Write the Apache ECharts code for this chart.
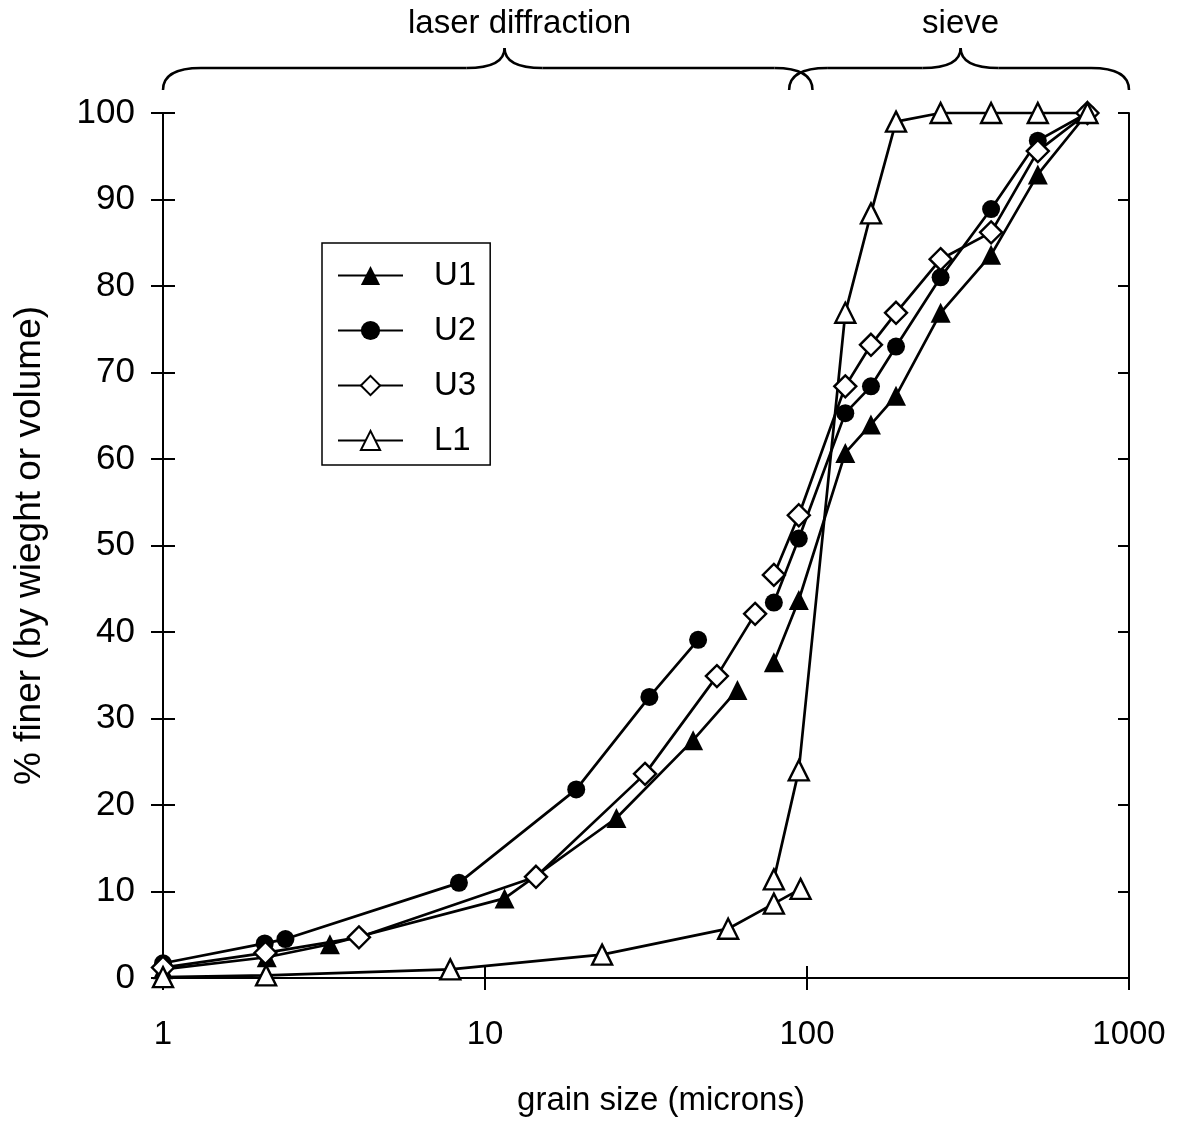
<!DOCTYPE html>
<html>
<head>
<meta charset="utf-8">
<script src="https://cdn.jsdelivr.net/npm/echarts@6/dist/echarts.min.js"></script>
<style>
  html, body { margin: 0; padding: 0; background: #fff; }
  #chart { width: 1179px; height: 1130px; }
</style>
</head>
<body>
<div id="chart"></div>
<script>
// grain size (microns) and % finer, laser diffraction part
const u1LaserSize = [1, 2.1, 3.3, 11.5, 25.6, 44.3, 60.8]
const u1LaserPct = [1.0, 2.4, 3.9, 9.2, 18.5, 27.5, 33.3]
const u2LaserSize = [1, 2.07, 2.4, 8.3, 19.2, 32.4, 45.9]
const u2LaserPct = [1.7, 4.0, 4.5, 11.0, 21.8, 32.5, 39.1]
const u3LaserSize = [1, 2.08, 4.06, 14.4, 31.4, 52.5, 69]
const u3LaserPct = [1.2, 2.9, 4.7, 11.7, 23.6, 34.9, 42.1]
const l1LaserSize = [1, 2.09, 7.8, 23.1, 56.9, 78.9, 95.5]
const l1LaserPct = [0.1, 0.3, 1.0, 2.7, 5.7, 8.6, 10.3]

// sieve part, same sieve sizes for every sample
const sieveSize = [78.9, 94.3, 131.5, 158, 189, 260, 373, 521, 743]
const u1SievePct = [36.5, 43.7, 60.7, 64.0, 67.3, 76.9, 83.6, 92.9, 100]
const u2SievePct = [43.4, 50.8, 65.3, 68.4, 73.0, 81.0, 88.9, 96.8, 100]
const u3SievePct = [46.6, 53.5, 68.4, 73.2, 76.9, 83.1, 86.2, 95.6, 100]
const l1SievePct = [11.4, 24.0, 76.9, 88.4, 99.0, 100, 100, 100, 100]

const xTicks = [1, 10, 100, 1000]
// brace ranges over the top: [start, tip, end] in microns
const laserBrace = [1, 11.5, 104]
const sieveBrace = [88, 300, 1000]

const FONT = '"Liberation Sans", Arial, sans-serif'
const black = '#000'

const pairs = (xs, ys) => xs.map((x, i) => [x, ys[i]])

const chart = echarts.init(document.getElementById('chart'))

function makeSeries(name, data, symbol, size, fill) {
  return {
    name,
    type: 'line',
    data,
    symbol,
    symbolSize: size,
    showAllSymbol: true,
    clip: false,
    xAxisIndex: 0,
    yAxisIndex: 0,
    lineStyle: { color: black, width: 2.7 },
    itemStyle: {
      color: fill,
      borderColor: black,
      borderWidth: fill === black ? 0 : 2.4,
      opacity: 1
    },
    emphasis: { disabled: true }
  }
}

const series = [
  makeSeries('U1', pairs(u1LaserSize, u1LaserPct), 'triangle', 20, black),
  makeSeries('U1', pairs(sieveSize, u1SievePct), 'triangle', 20, black),
  makeSeries('U2', pairs(u2LaserSize, u2LaserPct), 'circle', 18, black),
  makeSeries('U2', pairs(sieveSize, u2SievePct), 'circle', 18, black),
  makeSeries('U3', pairs(u3LaserSize, u3LaserPct), 'diamond', 22, '#fff'),
  makeSeries('U3', pairs(sieveSize, u3SievePct), 'diamond', 22, '#fff'),
  makeSeries('L1', pairs(l1LaserSize, l1LaserPct), 'triangle', 20, '#fff'),
  makeSeries('L1', pairs(sieveSize, l1SievePct), 'triangle', 20, '#fff')
]

const tickStyle = { color: black, width: 2 }
const logAxis = {
  type: 'log',
  logBase: 10,
  min: 1,
  max: 1000,
  splitLine: { show: false },
  minorTick: { show: false }
}

const option = {
  animation: false,
  backgroundColor: '#fff',
  grid: { left: 163, right: 50, top: 113, bottom: 152 },
  legend: {
    orient: 'vertical',
    left: 322,
    top: 243,
    itemWidth: 65,
    itemHeight: 24,
    itemGap: 22,
    padding: [16, 14, 8, 15],
    borderColor: black,
    borderWidth: 1.5,
    backgroundColor: '#fff',
    selectedMode: false,
    data: ['U1', 'U2', 'U3', 'L1'],
    textStyle: { fontSize: 33, fontFamily: FONT, color: black, padding: [0, 0, 0, 26] }
  },
  xAxis: [
    {
      ...logAxis,
      position: 'bottom',
      name: 'grain size (microns)',
      nameLocation: 'middle',
      nameGap: 106,
      nameTextStyle: { fontSize: 33, fontFamily: FONT, color: black, padding: [0, 0, 0, 30] },
      axisLine: { lineStyle: tickStyle },
      axisTick: { inside: false, length: 12, lineStyle: tickStyle },
      axisLabel: {
        fontSize: 33,
        fontFamily: FONT,
        color: black,
        margin: 40,
        formatter: v => (xTicks.includes(Math.round(v)) ? String(Math.round(v)) : '')
      }
    },
    {
      ...logAxis,
      position: 'bottom',
      axisLine: { show: false },
      axisTick: { inside: true, length: 12, lineStyle: tickStyle },
      axisLabel: { show: false }
    },
    {
      ...logAxis,
      position: 'top',
      axisLine: { lineStyle: tickStyle },
      axisTick: { inside: true, length: 11, lineStyle: tickStyle },
      axisLabel: { show: false }
    }
  ],
  yAxis: [
    {
      type: 'value',
      min: 0,
      max: 100,
      interval: 10,
      position: 'left',
      name: '% finer (by wieght or volume)',
      nameLocation: 'middle',
      nameGap: 115,
      nameTextStyle: { fontSize: 37, fontFamily: FONT, color: black },
      splitLine: { show: false },
      axisLine: { lineStyle: tickStyle },
      axisTick: { inside: false, length: 12, lineStyle: tickStyle },
      axisLabel: { fontSize: 35, fontFamily: FONT, color: black, margin: 28 }
    },
    {
      type: 'value',
      min: 0,
      max: 100,
      interval: 10,
      position: 'left',
      splitLine: { show: false },
      axisLine: { show: false },
      axisTick: { inside: true, length: 12, lineStyle: tickStyle },
      axisLabel: { show: false }
    },
    {
      type: 'value',
      min: 0,
      max: 100,
      interval: 10,
      position: 'right',
      splitLine: { show: false },
      axisLine: { lineStyle: tickStyle },
      axisTick: { inside: true, length: 11, lineStyle: tickStyle },
      axisLabel: { show: false }
    }
  ],
  series
}

chart.setOption(option)

// curly braces with labels above the plot
const braceStyle = { fill: null, stroke: black, lineWidth: 2.5 }

function braceGraphic(range, label, shift) {
  const [a, t, b] = range.map(v => chart.convertToPixel({ xAxisIndex: 0 }, v))
  const yEnd = 90
  const yMid = 68
  const yTip = 48
  const r = 38
  const curve = (x1, y1, x2, y2, cx, cy) => ({
    type: 'bezierCurve',
    shape: { x1, y1, x2, y2, cpx1: cx, cpy1: cy },
    style: braceStyle
  })
  const line = (x1, x2) => ({
    type: 'line',
    shape: { x1, y1: yMid, x2, y2: yMid },
    style: braceStyle
  })
  return [
    curve(a, yEnd, a + r, yMid, a, yMid),
    line(a + r, t - r),
    curve(t - r, yMid, t, yTip, t, yMid),
    curve(t, yTip, t + r, yMid, t, yMid),
    line(t + r, b - r),
    curve(b - r, yMid, b, yEnd, b, yMid),
    {
      type: 'text',
      x: t + shift,
      y: 24,
      style: { text: label, fontSize: 33, fontFamily: FONT, fill: black, align: 'center', verticalAlign: 'middle' }
    }
  ]
}

chart.setOption({
  graphic: [
    ...braceGraphic(laserBrace, 'laser diffraction', 15),
    ...braceGraphic(sieveBrace, 'sieve', 0)
  ]
})
</script>
</body>
</html>
